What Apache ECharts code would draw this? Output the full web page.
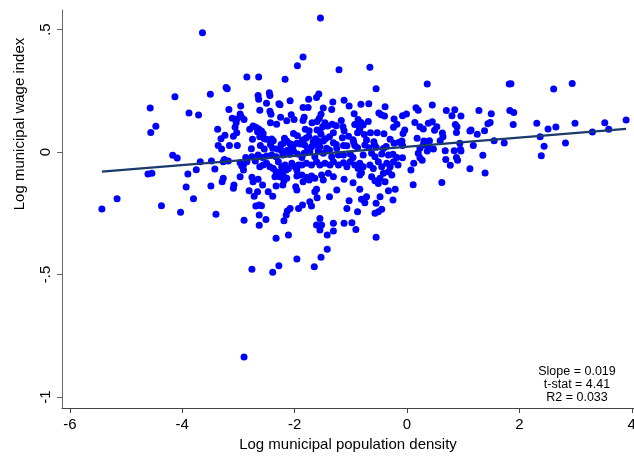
<!DOCTYPE html>
<html>
<head>
<meta charset="utf-8">
<style>
  html, body { margin: 0; padding: 0; background: #fff; }
  #chart { width: 634px; height: 458px; }
</style>
<script src="https://cdn.jsdelivr.net/npm/echarts@6/dist/echarts.min.js"></script>
</head>
<body>
<div id="chart"></div>
<script>
// log municipal population density, one value per municipality
const densityX = [
  -4.13,-4.57,-3.88,-3.71,-4.47,-4.56,-4.17,-4.09,-4.61,-4.54,-3.90,-3.75,-3.93,-3.80,-5.16,-5.43,-4.37,-4.03,
  -3.64,-1.54,-1.85,-1.95,-1.21,-0.66,-2.85,-2.64,-2.17,
  1.85,2.61,2.94,1.83,1.90,1.89,2.31,2.51,2.65,2.99,3.52,3.90,3.30,3.59,1.73,2.37,2.44,2.82,2.39,
  0.11,0.62,
  0.36,1.82,0.45,0.16,0.20,-0.01,-0.08,0.70,0.85,0.80,0.96,1.28,1.50,0.14,0.38,0.45,0.23,0.29,0.53,0.49,
  0.86,0.89,1.44,1.48,-0.04,-0.07,0.63,0.64,0.88,1.14,1.12,1.25,1.38,0.18,0.30,0.36,0.40,0.59,-0.09,0.29,
  0.37,0.94,1.18,1.55,-0.08,0.23,0.36,0.47,0.68,0.84,0.95,0.96,0.20,0.23,0.27,-0.08,0.69,0.88,0.90,1.35,
  0.12,0.07,0.77,1.12,1.39,
  -3.20,-3.22,-3.50,-2.65,-2.64,-2.45,-2.44,-2.08,-2.50,-2.28,-2.26,-2.96,-3.17,-2.62,-2.44,-2.42,-2.97,-2.95,
  -3.11,-3.03,-2.90,-3.04,-2.25,-2.06,-2.14,-2.01,-2.43,-2.32,-3.06,-3.03,-3.37,-2.74,-2.69,-2.64,-2.66,-2.80,
  -2.59,-2.56,-3.24,-3.31,-3.36,-3.30,-3.09,-2.75,-2.62,-2.54,-2.50,-2.41,-2.38,-2.18,-2.14,-2.02,-1.95,-3.16,
  -3.02,-2.61,-2.43,-2.39,-2.24,-2.20,-2.08,-2.02,-1.96,-2.77,-2.54,-2.31,-2.24,-2.13,-2.05,-3.25,-2.87,-2.76,
  -2.65,-2.57,-2.50,-2.41,-2.33,-2.21,-2.09,-2.02,-1.95,
  -0.55,-1.57,-1.61,-1.75,-1.12,-1.32,-0.82,-0.68,-0.39,-1.03,-1.49,-1.76,-1.85,-1.34,-0.94,-0.50,-0.46,-0.40,
  -1.53,-1.56,-1.60,-1.83,-1.85,-1.17,-0.87,-0.82,-0.69,-0.23,-0.18,-0.24,-1.69,-1.46,-1.50,-1.41,-1.33,-1.26,
  -1.14,-1.12,-0.93,-0.85,-0.78,-1.81,-1.74,-1.60,-1.55,-1.53,-1.31,-0.84,-0.88,-0.65,-0.53,-0.41,-1.15,-1.04,
  -1.38,-1.45,-1.49,-0.76,-1.75,-1.80,-1.86,-1.63,-1.67,-1.58,-0.96,-0.95,-0.72,-0.59,-0.58,-0.55,-0.30,-0.23,
  -0.14,-1.31,-1.26,-1.25,-1.13,-1.07,-0.93,-0.88,-0.75,-0.68,-0.42,-0.37,-1.90,-1.82,-1.77,-1.70,-1.64,-1.55,
  -1.43,-1.38,-1.73,-1.58,-1.49,-1.83,-1.87,-1.64,-1.34,-1.22,-1.13,-1.01,-0.96,-0.78,-0.63,-0.57,-0.45,-0.33,
  -0.25,-0.18,
  -3.68,-3.48,-3.27,-3.18,-2.97,-2.91,-2.85,-2.70,-2.62,-2.56,-2.50,-2.44,-2.38,-2.29,-2.23,-2.17,-2.11,-2.05,
  -1.99,-1.93,-3.42,-2.94,-2.91,-2.33,-2.29,-2.23,-2.15,-1.96,-2.97,-2.76,-2.74,-2.65,-3.27,-3.29,-2.35,-2.26,
  -2.20,-2.14,-1.96,-3.49,-3.08,-3.09,-2.57,-2.33,-2.21,-2.19,-1.98,-1.96,-2.81,-2.66,-2.72,-2.47,-2.39,-2.69,
  -2.63,-2.59,-1.93,-2.08,-2.13,-2.15,-2.19,-3.40,-2.63,-2.51,-2.90,-2.63,-2.33,-2.11,
  -1.87,-1.79,-1.70,-1.61,-1.55,-1.46,-1.37,-1.31,-1.22,-1.13,-1.07,-1.01,-0.93,-0.84,-0.87,-0.78,-0.66,-0.60,
  -0.51,-0.45,-0.36,-0.30,-0.24,-0.16,-1.87,-1.79,-1.70,-1.64,-1.52,-1.40,-1.31,-1.49,-1.85,-1.74,-1.12,-0.84,
  -0.81,-0.63,-0.57,-0.51,-0.42,-0.33,-0.27,-0.48,-0.39,-0.96,-1.61,-1.64,-1.25,-0.84,-0.33,-0.21,-1.60,-1.38,
  -1.86,-1.73,-1.70,-1.03,-0.81,-0.75,-0.72,-0.48,-0.55,-0.25,-1.07,-0.88,-0.57,-0.51,-0.45,-1.61,-1.52,-1.55,
  -1.55,-1.31,-1.31,-1.42,-1.12,-0.98,-0.91,-0.55,
  -1.42,-1.53,-1.96,-2.28,-2.76,-2.39,-1.65,-2.90
];

// log municipal wage index, same order as densityX
const wageY = [
  0.226,0.180,0.159,0.151,0.105,0.080,-0.013,-0.024,-0.090,-0.087,-0.090,-0.072,-0.143,-0.191,-0.191,-0.233,-0.219,-0.246,
  0.487,0.547,0.388,0.352,0.336,0.346,0.306,0.306,0.297,
  0.279,0.257,0.280,0.170,0.162,0.113,0.118,0.094,0.102,0.118,0.120,0.131,0.082,0.093,0.037,0.062,0.024,0.037,-0.015,
  -0.133,-0.124,
  0.278,0.278,0.192,0.181,0.171,0.155,0.148,0.170,0.173,0.148,0.147,0.170,0.156,0.121,0.118,0.124,0.103,0.094,0.103,0.089,
  0.113,0.103,0.116,0.121,0.090,0.076,0.078,0.062,0.080,0.090,0.086,0.073,0.087,0.056,0.045,0.041,0.046,0.046,0.045,0.029,
  0.027,0.036,0.027,0.046,0.027,0.016,0.004,0.012,0.005,0.005,0.011,0.004,-0.005,-0.023,-0.033,-0.023,-0.030,-0.022,-0.033,-0.013,
  -0.046,-0.073,-0.054,-0.068,-0.086,
  0.258,0.264,0.236,0.231,0.216,0.242,0.231,0.209,0.199,0.197,0.193,0.188,0.174,0.171,0.167,0.154,0.155,0.144,
  0.138,0.135,0.133,0.120,0.142,0.152,0.128,0.133,0.120,0.114,0.101,0.079,0.093,0.106,0.101,0.094,0.083,0.093,
  0.086,0.076,0.069,0.054,0.027,0.012,0.065,0.052,0.062,0.054,0.052,0.053,0.046,0.056,0.045,0.076,0.067,0.027,
  0.027,0.027,0.031,0.016,0.031,0.036,0.034,0.029,0.036,0.013,0.012,0.012,0.007,0.007,0.012,-0.030,-0.022,-0.019,
  -0.012,-0.022,-0.016,-0.012,-0.019,-0.012,-0.009,0.004,-0.008,
  0.258,0.237,0.223,0.216,0.212,0.204,0.195,0.197,0.185,0.188,0.180,0.182,0.182,0.174,0.156,0.159,0.152,0.147,
  0.154,0.138,0.125,0.142,0.129,0.129,0.133,0.121,0.125,0.135,0.114,0.101,0.120,0.120,0.103,0.106,0.114,0.107,
  0.103,0.087,0.113,0.102,0.110,0.093,0.087,0.090,0.086,0.073,0.079,0.090,0.079,0.079,0.079,0.075,0.058,0.065,
  0.062,0.054,0.045,0.072,0.065,0.056,0.049,0.054,0.042,0.044,0.050,0.041,0.049,0.042,0.031,0.020,0.052,0.036,
  0.040,0.038,0.031,0.015,0.027,0.026,0.027,0.018,0.029,0.018,0.015,0.023,0.033,0.029,0.015,0.022,0.029,0.022,
  0.016,0.008,0.001,0.004,-0.005,-0.005,-0.022,-0.019,-0.019,-0.012,-0.012,-0.008,-0.022,-0.012,-0.005,-0.019,-0.008,-0.012,
  -0.009,-0.022,
  -0.040,-0.037,-0.040,-0.037,-0.044,-0.053,-0.040,-0.037,-0.060,-0.053,-0.046,-0.060,-0.067,-0.040,-0.060,-0.053,-0.067,-0.046,
  -0.060,-0.053,-0.069,-0.057,-0.073,-0.080,-0.087,-0.078,-0.073,-0.073,-0.101,-0.103,-0.121,-0.111,-0.107,-0.121,-0.101,-0.101,
  -0.098,-0.107,-0.098,-0.139,-0.135,-0.148,-0.135,-0.139,-0.135,-0.117,-0.142,-0.155,-0.158,-0.162,-0.180,-0.162,-0.180,-0.220,
  -0.216,-0.219,-0.230,-0.230,-0.241,-0.257,-0.280,-0.254,-0.257,-0.275,-0.278,-0.299,-0.352,-0.339,
  -0.053,-0.046,-0.053,-0.040,-0.053,-0.046,-0.053,-0.040,-0.053,-0.044,-0.060,-0.040,-0.053,-0.046,-0.067,-0.060,-0.053,-0.067,
  -0.040,-0.060,-0.046,-0.060,-0.040,-0.053,-0.094,-0.103,-0.098,-0.107,-0.094,-0.087,-0.101,-0.114,-0.121,-0.114,-0.111,-0.094,
  -0.084,-0.101,-0.117,-0.128,-0.087,-0.080,-0.094,-0.107,-0.121,-0.125,-0.152,-0.162,-0.155,-0.152,-0.158,-0.152,-0.187,-0.182,
  -0.216,-0.203,-0.220,-0.199,-0.193,-0.207,-0.182,-0.182,-0.209,-0.196,-0.230,-0.244,-0.250,-0.244,-0.234,-0.298,-0.298,-0.271,
  -0.318,-0.291,-0.322,-0.339,-0.291,-0.289,-0.316,-0.348,
  -0.397,-0.429,-0.437,-0.464,-0.478,-0.491,-0.468,-0.837
];

// fitted line endpoints
const fitX = [-5.43, 3.90];
const fitY = [-0.080, 0.095];

const xTicks = [-6, -4, -2, 0, 2, 4];
const yTicks = [-1, -0.5, 0, 0.5];
const yTickText = ["-1", "-.5", "0", ".5"];
const statLines = ["Slope = 0.019", "t-stat = 4.41", "R2 = 0.033"];

const font = "Liberation Sans, Arial, sans-serif";
const myChart = echarts.init(document.getElementById("chart"), null, { renderer: "canvas" });

const option = {
  animation: false,
  backgroundColor: "#fff",
  grid: { left: 62, right: 0, top: 10, bottom: 50, outerBoundsMode: "none", containLabel: false },
  xAxis: {
    type: "value",
    min: -6.14,
    max: 4.04,
    name: "Log municipal population density",
    nameLocation: "middle",
    nameGap: 25,
    nameTextStyle: { fontFamily: font, fontSize: 15, color: "#000" },
    axisLine: { show: true, onZero: false, lineStyle: { color: "#444", width: 1 } },
    axisTick: { show: true, customValues: xTicks, length: 5, lineStyle: { color: "#444" } },
    axisLabel: { customValues: xTicks, fontFamily: font, fontSize: 15, color: "#000", margin: 9, hideOverlap: false },
    splitLine: { show: false }
  },
  yAxis: {
    type: "value",
    min: -1.045,
    max: 0.58,
    axisLine: { show: true, onZero: false, lineStyle: { color: "#666", width: 1 } },
    axisTick: { show: true, customValues: yTicks, length: 5, lineStyle: { color: "#666" } },
    axisLabel: {
      customValues: yTicks,
      rotate: 90,
      fontFamily: font,
      fontSize: 15,
      color: "#000",
      margin: 9,
      formatter: v => yTickText[yTicks.indexOf(v)]
    },
    splitLine: { show: false }
  },
  graphic: [
    {
      type: "text",
      x: 20,
      y: 124,
      rotation: Math.PI / 2,
      style: {
        text: "Log municipal wage index",
        font: "15px " + font,
        fill: "#000",
        align: "center",
        verticalAlign: "middle"
      }
    },
    {
      type: "text",
      x: 577,
      y: 365,
      style: {
        text: statLines.join("\n"),
        font: "12.5px " + font,
        lineHeight: 13,
        fill: "#000",
        align: "center",
        verticalAlign: "top"
      }
    }
  ],
  series: [
    {
      type: "scatter",
      symbol: "circle",
      symbolSize: 7,
      itemStyle: { color: "#0000ff", opacity: 1 },
      data: densityX.map((x, i) => [x, wageY[i]]),
      z: 2
    },
    {
      type: "line",
      symbol: "none",
      lineStyle: { color: "#1a3a6b", width: 2.2 },
      data: fitX.map((x, i) => [x, fitY[i]]),
      z: 3
    }
  ]
};

myChart.setOption(option);
</script>
</body>
</html>
